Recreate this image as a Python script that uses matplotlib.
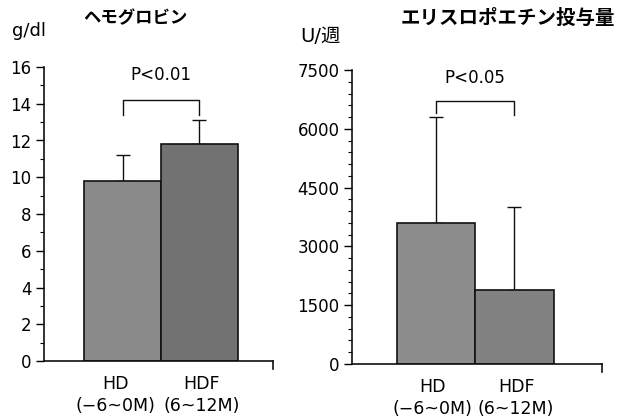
import matplotlib
matplotlib.use("Agg")
import matplotlib.pyplot as plt

plt.rcParams["font.family"] = ["DejaVu Sans", "Noto Sans CJK JP"]

# data
groups = ["HD\n(−6~0M)", "HDF\n(6~12M)"]

hb_mean = [9.8, 11.8]
hb_sd = [1.4, 1.3]
hb_bracket = (14.2, 13.4, 13.4)  # top, left tip, right tip
hb_p = "P<0.01"

epo_mean = [3600, 1900]
epo_sd = [2700, 2100]
epo_bracket = (6700, 6400, 6350)
epo_p = "P<0.05"

W, H = 621, 419
fig = plt.figure(figsize=(W / 100, H / 100), dpi=100)
fig.patch.set_facecolor("white")

colors_hb = ["#8a8a8a", "#727272"]
colors_epo = ["#8c8c8c", "#828282"]


def panel(rect, means, sds, colors, ylim, major, minor, xlim, bracket, ptxt,
          label_pos):
    ax = fig.add_axes(rect)
    x = [0, 1]
    ax.bar(x, means, width=1.0, color=colors, edgecolor="#111", linewidth=1.2, zorder=2)
    ax.errorbar(x, means, yerr=[[0, 0], sds], fmt="none", ecolor="#111",
                elinewidth=1.0, capsize=5, capthick=1.0, zorder=1)
    top, lt, rt = bracket
    ax.plot([0, 0, 1, 1], [lt, top, top, rt], color="#111", lw=1.0, clip_on=False)
    ax.text(0.5, ylim[1] + (ylim[1] - ylim[0]) * 0.005, ptxt, ha="center", va="top",
            fontsize=12)
    ax.set_xlim(*xlim)
    ax.set_ylim(*ylim)
    ax.set_yticks(major)
    ax.set_yticks(minor, minor=True)
    ax.set_xticks(label_pos)
    ax.set_xticklabels(groups, fontsize=12.5, linespacing=1.3)
    ax.tick_params(axis="x", length=0, pad=10)
    ax.tick_params(axis="y", which="major", length=6, width=1.0, labelsize=12, pad=3)
    ax.tick_params(axis="y", which="minor", length=3, width=0.8)
    for s in ["top", "right"]:
        ax.spines[s].set_visible(False)
    for s in ["left", "bottom"]:
        ax.spines[s].set_linewidth(1.2)
        ax.spines[s].set_color("#111")
    ax.plot([1, 1], [0, -0.028], transform=ax.transAxes, color="#111", lw=1.2,
            clip_on=False)
    return ax


ax1 = panel([44 / W, 1 - 361 / H, 229 / W, 294 / H], hb_mean, hb_sd, colors_hb,
            (0, 16), list(range(0, 17, 2)), list(range(0, 17, 1)),
            (-1.02, 1.955), hb_bracket, hb_p, [-0.09, 1.03])
ax2 = panel([352 / W, 1 - 364 / H, 250 / W, 294 / H], epo_mean, epo_sd, colors_epo,
            (0, 7500), list(range(0, 7501, 1500)), list(range(0, 7501, 300)),
            (-1.07, 2.115), epo_bracket, epo_p, [-0.04, 1.02])

fig.text(12 / W, 1 - 31 / H, "g/dl", fontsize=13, va="center", ha="left")
fig.text(135 / W, 1 - 18 / H, "ヘモグロビン", fontsize=12.5, va="center", ha="center",
         family=["Noto Sans CJK JP"], weight="bold")
fig.text(300 / W, 1 - 36 / H, "U/週", fontsize=14, va="center", ha="left",
         family=["DejaVu Sans", "Noto Sans CJK JP"])
fig.text(508 / W, 1 - 18 / H, "エリスロポエチン投与量", fontsize=14, va="center",
         ha="center", family=["Noto Sans CJK JP"], weight="bold")

fig.savefig("out.png", dpi=100)
